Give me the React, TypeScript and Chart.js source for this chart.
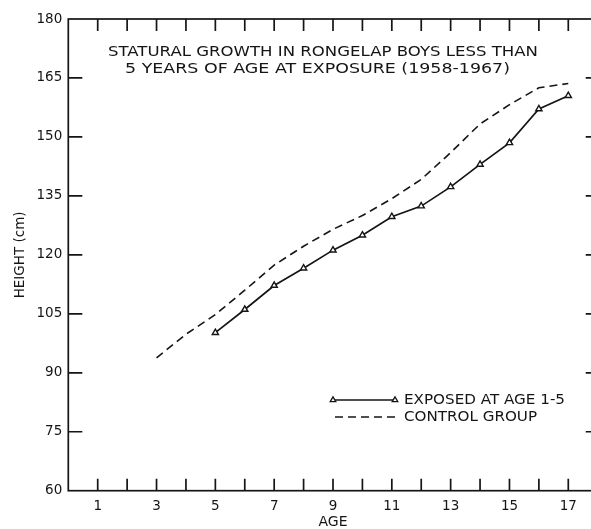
import React, { useEffect, useRef } from 'react';
import { Chart, registerables } from 'chart.js';

Chart.register(...registerables);

const exposedAges = [5, 6, 7, 8, 9, 10, 11, 12, 13, 14, 15, 16, 17];
const exposedHeights = [100.2, 106.1, 112.2, 116.6, 121.2, 125.0, 129.7, 132.4, 137.3, 143.0, 148.5, 157.1, 160.5];
const controlAges = [3, 4, 5, 6, 7, 8, 9, 10, 11, 12, 13, 14, 15, 16, 17];
const controlHeights = [93.8, 99.8, 104.8, 111.0, 117.4, 122.2, 126.5, 130.0, 134.3, 139.2, 146.0, 153.3, 158.2, 162.5, 163.6];
const ageTicks = [1, 2, 3, 4, 5, 6, 7, 8, 9, 10, 11, 12, 13, 14, 15, 16, 17];
const heightTicks = [75, 90, 105, 120, 135, 150, 165];
const titleLines = ['STATURAL GROWTH IN RONGELAP BOYS LESS THAN', '5 YEARS OF AGE AT EXPOSURE (1958-1967)'];
const legendLabels = ['EXPOSED AT AGE 1-5', 'CONTROL GROUP'];

const INK = '#151515';
const FONT = '"DejaVu Sans", sans-serif';

function fitText(ctx: CanvasRenderingContext2D, text: string, x: number, y: number, width: number) {
  const w = ctx.measureText(text).width;
  ctx.save();
  ctx.translate(x, y);
  ctx.scale(width / w, 1);
  ctx.textAlign = 'left';
  ctx.textBaseline = 'middle';
  ctx.fillText(text, 0, 0);
  ctx.restore();
}

function triangle(ctx: CanvasRenderingContext2D, x: number, y: number, r: number) {
  ctx.beginPath();
  for (let i = 0; i < 3; i++) {
    const a = -Math.PI / 2 + (i * 2 * Math.PI) / 3;
    const px = x + Math.cos(a) * r;
    const py = y + Math.sin(a) * r;
    if (i === 0) ctx.moveTo(px, py);
    else ctx.lineTo(px, py);
  }
  ctx.closePath();
  ctx.fillStyle = '#fff';
  ctx.fill();
  ctx.stroke();
}

const framePlugin = {
  id: 'frame',
  afterDraw(chart: any) {
    const { ctx, chartArea } = chart;
    const { left, right, top, bottom } = chartArea;
    const xs = chart.scales.x;
    const ys = chart.scales.y;
    ctx.save();
    ctx.strokeStyle = INK;
    ctx.lineWidth = 1.7;
    ctx.strokeRect(left, top, right - left, bottom - top);
    ctx.beginPath();
    for (const v of ageTicks) {
      const px = xs.getPixelForValue(v);
      ctx.moveTo(px, top);
      ctx.lineTo(px, top + 12);
      ctx.moveTo(px, bottom);
      ctx.lineTo(px, bottom - 12);
    }
    for (const v of heightTicks) {
      const py = ys.getPixelForValue(v);
      ctx.moveTo(left, py);
      ctx.lineTo(left + 14, py);
      ctx.moveTo(right, py);
      ctx.lineTo(right - 12, py);
    }
    ctx.stroke();

    // title inside plot
    ctx.fillStyle = INK;
    ctx.font = `500 14.5px ${FONT}`;
    fitText(ctx, titleLines[0], 108, 52, 430);
    fitText(ctx, titleLines[1], 125, 69, 385);

    // legend
    const ds0 = chart.data.datasets[0];
    const ds1 = chart.data.datasets[1];
    ctx.lineWidth = ds0.borderWidth;
    ctx.setLineDash([]);
    ctx.beginPath();
    ctx.moveTo(333, 400);
    ctx.lineTo(395, 400);
    ctx.stroke();
    ctx.lineWidth = 1.3;
    triangle(ctx, 333, 400, 3.2);
    triangle(ctx, 395, 400, 3.2);
    ctx.lineWidth = ds1.borderWidth;
    ctx.setLineDash(ds1.borderDash);
    ctx.beginPath();
    ctx.moveTo(335, 417);
    ctx.lineTo(397, 417);
    ctx.stroke();
    ctx.setLineDash([]);
    ctx.fillStyle = INK;
    ctx.font = `14.5px ${FONT}`;
    fitText(ctx, legendLabels[0], 404, 400, 161);
    fitText(ctx, legendLabels[1], 404, 417, 133);
    ctx.restore();
  },
};

export default function App() {
  const ref = useRef<HTMLCanvasElement>(null);
  useEffect(() => {
    if (!ref.current) return;
    const chart = new Chart(ref.current, {
      type: 'line',
      data: {
        datasets: [
          {
            label: legendLabels[0],
            data: exposedAges.map((a, i) => ({ x: a, y: exposedHeights[i] })),
            borderColor: INK,
            borderWidth: 1.7,
            pointStyle: 'triangle',
            pointRadius: 3.6,
            pointBorderWidth: 1.4,
            pointBackgroundColor: '#fff',
            pointBorderColor: INK,
            tension: 0,
          },
          {
            label: legendLabels[1],
            data: controlAges.map((a, i) => ({ x: a, y: controlHeights[i] })),
            borderColor: INK,
            borderWidth: 1.6,
            borderDash: [8, 5],
            pointRadius: 0,
            tension: 0,
          },
        ],
      },
      options: {
        responsive: false,
        animation: false,
        devicePixelRatio: 1,
        layout: { padding: { top: 19, right: 12.3, left: 0, bottom: 0 } },
        plugins: { legend: { display: false }, tooltip: { enabled: false } },
        scales: {
          x: {
            type: 'linear',
            min: 0,
            max: 18,
            grid: { display: false, drawTicks: false },
            border: { display: false },
            ticks: {
              stepSize: 1,
              autoSkip: false,
              maxRotation: 0,
              padding: 8,
              color: INK,
              font: { family: FONT, size: 13.5 },
              callback: (v: any) => (Number(v) % 2 === 1 && Number(v) <= 17 ? String(v) : ''),
            },
            title: {
              display: true,
              text: 'AGE',
              color: INK,
              font: { family: FONT, size: 14, lineHeight: 1 },
              padding: { top: 0, bottom: 0 },
            },
            afterFit: (s: any) => {
              s.height = 38.3;
            },
          },
          y: {
            type: 'linear',
            min: 60,
            max: 180,
            grid: { display: false, drawTicks: false },
            border: { display: false },
            ticks: {
              stepSize: 15,
              padding: 6,
              color: INK,
              font: { family: FONT, size: 13.5 },
            },
            title: {
              display: true,
              text: 'HEIGHT (cm)',
              color: INK,
              font: { family: FONT, size: 13.5, lineHeight: 1 },
              padding: { top: 13.3, bottom: 0 },
            },
            afterFit: (s: any) => {
              s.width = 68.3;
            },
          },
        },
      },
      plugins: [framePlugin],
    } as any);
    return () => chart.destroy();
  }, []);

  return (
    <div style={{ position: 'fixed', left: 0, top: 0, width: 591, height: 529, overflow: 'hidden', background: '#fff' }}>
      <canvas ref={ref} width={610} height={529} style={{ display: 'block', width: 610, height: 529 }} />
    </div>
  );
}
